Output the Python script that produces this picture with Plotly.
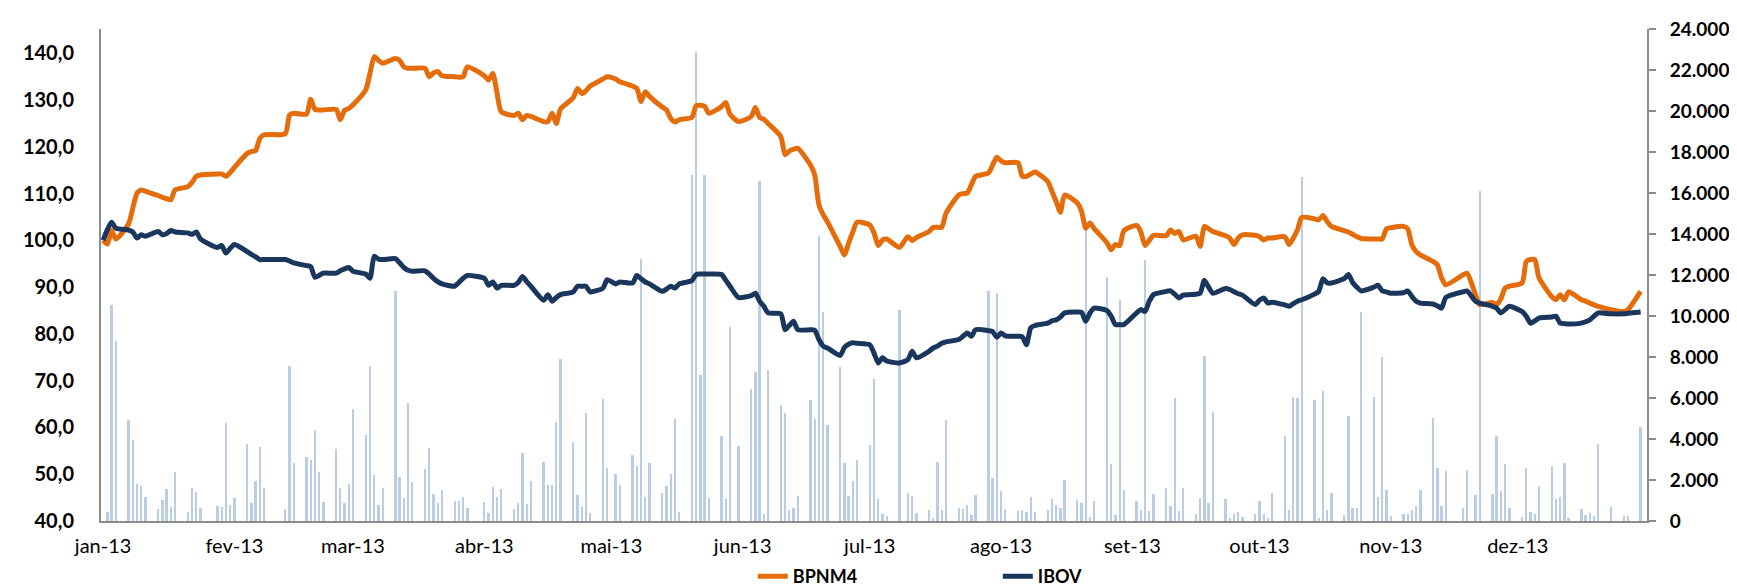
import pandas as pd
import plotly.graph_objects as go

# ---------------- data ----------------
holidays = ["2013-01-25", "2013-02-11", "2013-02-12", "2013-03-29", "2013-05-01",
            "2013-05-30", "2013-07-09", "2013-11-15", "2013-11-20", "2013-12-24",
            "2013-12-25"]
trading_days = [d.strftime("%Y-%m-%d") for d in pd.bdate_range("2013-01-02", "2013-12-30")
                if d.strftime("%Y-%m-%d") not in holidays]
base_date = "2013-01-01"
base_value = 100.0

month_ticks = ["2013-01-01", "2013-02-01", "2013-03-01", "2013-04-01", "2013-05-01", "2013-06-01",
               "2013-07-01", "2013-08-01", "2013-09-01", "2013-10-01", "2013-11-01", "2013-12-01"]
month_labels = ["jan-13", "fev-13", "mar-13", "abr-13", "mai-13", "jun-13",
                "jul-13", "ago-13", "set-13", "out-13", "nov-13", "dez-13"]

# daily traded volume (right axis)
volume = [
    # jan
    450, 10560, 8770, 4940, 3950, 1800, 1700, 1170, 600, 1040, 1540, 680, 2390, 440, 1600, 1400, 630,
    730, 700, 4790, 760,
    # fev
    1140, 3780, 900, 1960, 3620, 1600, 570, 7550, 2840, 3120, 2970, 4430, 2370, 940, 3520, 1600, 860, 1800,
    # mar
    5470, 4200, 7540, 2260, 780, 1600, 11240, 2130, 1140, 5750, 1900, 2550, 3560, 1320, 900, 1500,
    960, 990, 1170, 630,
    # abr
    930, 400, 1640, 1180, 1560, 580, 860, 3340, 830, 1930, 2900, 1780, 1770, 4820, 7890, 3860,
    1280, 700, 5260, 370, 5930, 2600,
    # mai
    2270, 1780, 3200, 2680, 12800, 1170, 2830, 1380, 1700, 2270, 5000, 450, 16900, 22900, 7100,
    16900, 1100, 4140, 1050, 9460, 3680,
    # jun
    6460, 7270, 16600, 320, 7360, 5650, 5280, 530, 630, 1220, 5900, 5000, 13900, 10200, 4660,
    7500, 2830, 1200, 1970, 3000,
    # jul
    3720, 6950, 1050, 320, 220, 10300, 1380, 1200, 400, 530, 160, 2900, 560, 4940, 650, 600, 780,
    290, 1280, 11200, 2100, 11100,
    # ago
    1460, 600, 490, 550, 440, 1170, 440, 520, 1050, 780, 650, 2000, 1020, 900, 14300, 200, 1000,
    11900, 2800, 300, 10800, 1500,
    # set
    1000, 550, 12750, 490, 1300, 1620, 730, 6000, 490, 1590, 320, 1100, 8040, 890, 5310, 1070,
    160, 320, 440, 210, 320,
    # out
    970, 320, 160, 1380, 4140, 520, 6060, 5980, 16800, 5910, 160, 6340, 520, 1350, 290, 5100,
    650, 650, 10200, 6040, 1180, 8000, 1510,
    # nov
    230, 340, 340, 520, 750, 1490, 5020, 2580, 750, 2420, 620, 2510, 1280, 16100, 1300, 4140,
    1460, 2790, 650,
    # dez
    210, 2580, 440, 360, 1730, 2660, 1070, 1180, 2830, 130, 600, 300, 370, 240, 3770, 680, 240,
    240, 4610,
]

# BPNM4 (base 100)
bpnm4 = [
    # jan
    99.2, 102.1, 100.3, 103.5, 106.9, 110.1, 110.8, 110.5, 109.6, 109.2, 108.9, 108.7, 110.8,
    111.5, 112.4, 113.7, 114.0, 114.2, 114.2, 113.7, 114.5,
    # fev
    115.6, 118.6, 119.0, 119.2, 121.8, 122.6, 122.8, 126.8, 127.2, 127.0, 130.2, 128.0, 127.9,
    127.9, 128.0, 125.8, 127.8, 128.2,
    # mar
    129.0, 132.2, 135.7, 139.3, 138.5, 137.9, 138.9, 138.5, 137.1, 136.8, 136.8, 136.8, 135.0,
    135.8, 136.1, 135.2, 135.0, 134.9, 135.0, 137.1,
    # abr
    135.2, 134.3, 135.7, 131.5, 127.5, 126.7, 127.2, 125.8, 126.7, 126.5, 125.4, 125.4, 127.2,
    125.0, 128.1, 130.5, 132.5, 131.4, 132.0, 133.0, 134.5, 135.0,
    # mai
    134.5, 133.9, 133.0, 132.5, 129.7, 131.8, 130.8, 128.5, 127.9, 126.1, 125.3, 125.8, 126.3,
    128.8, 128.9, 128.7, 127.2, 128.6, 129.5, 127.0, 125.4,
    # jun
    126.5, 128.4, 126.3, 125.9, 125.0, 122.2, 118.3, 119.1, 119.5, 119.7, 116.1, 114.0, 107.6,
    105.5, 104.0, 98.7, 96.9, 99.4, 101.8, 103.9,
    # jul
    103.3, 101.6, 98.9, 100.1, 100.3, 98.5, 100.8, 100.0, 100.6, 101.9, 102.8, 102.8, 102.8,
    105.8, 109.7, 110.0, 110.1, 111.9, 113.7, 114.4, 116.1, 117.8,
    # ago
    117.0, 116.6, 116.6, 113.7, 113.7, 114.2, 114.6, 112.6, 110.5, 108.3, 106.0, 109.7, 108.0,
    106.2, 102.6, 103.7, 102.5, 99.5, 98.0, 99.1, 98.9, 102.1,
    # set
    103.2, 101.8, 98.9, 100.0, 101.1, 101.0, 102.2, 101.5, 101.9, 100.1, 100.9, 98.7, 103.0,
    102.5, 101.9, 101.0, 100.5, 99.1, 100.5, 101.2, 101.1,
    # out
    100.8, 100.1, 100.5, 100.5, 100.8, 99.1, 100.5, 102.3, 104.9, 104.6, 104.4, 105.3, 104.0,
    103.0, 102.1, 101.8, 101.3, 100.8, 100.4, 100.3, 100.3, 100.3, 102.5,
    # nov
    102.7, 103.0, 102.5, 99.0, 97.6, 96.9, 95.5, 94.8, 92.0, 90.5, 92.6, 93.0, 88.4, 86.3, 86.7,
    86.3, 87.5, 89.8, 90.2,
    # dez
    90.9, 95.5, 95.9, 95.9, 92.0, 88.0, 87.3, 88.4, 87.3, 89.0, 87.3, 87.0, 86.6, 86.2, 85.9,
    85.2, 84.8, 85.2, 89.1,
]

# IBOV (base 100)
ibov = [
    # jan
    102.3, 103.9, 102.6, 102.2, 101.8, 100.5, 101.2, 100.9, 101.9, 101.2, 101.5, 102.1, 101.8,
    101.6, 101.3, 101.8, 100.3, 98.5, 98.9, 97.3, 98.3,
    # fev
    99.1, 97.6, 97.0, 96.5, 95.9, 95.9, 95.9, 95.6, 95.2, 94.6, 94.4, 92.1, 92.5, 93.0, 93.0,
    93.5, 93.9, 94.2,
    # mar
    93.4, 92.8, 91.9, 96.6, 96.0, 95.9, 96.1, 95.2, 94.2, 93.6, 93.4, 93.5, 92.8, 91.9, 91.2,
    90.7, 90.2, 91.0, 91.9, 92.5,
    # abr
    91.9, 90.4, 91.1, 89.8, 90.4, 90.4, 91.0, 92.3, 91.2, 90.2, 87.2, 88.4, 87.0, 87.8, 88.4,
    89.0, 90.2, 90.2, 90.2, 89.0, 89.8, 91.6,
    # mai
    90.7, 91.1, 90.9, 92.5, 91.8, 91.1, 90.7, 89.1, 89.6, 90.2, 89.8, 90.7, 91.4, 92.7, 92.8,
    92.8, 92.8, 92.7, 91.5, 90.2, 87.8,
    # jun
    88.2, 88.7, 87.0, 85.9, 84.5, 84.3, 80.9, 81.8, 82.7, 80.9, 80.9, 80.8, 78.8, 77.4, 77.0,
    75.4, 77.1, 77.8, 78.1, 78.0,
    # jul
    77.7, 75.9, 73.8, 74.9, 74.2, 73.8, 74.5, 76.3, 74.9, 76.3, 77.0, 77.4, 78.0, 78.3, 78.8,
    79.5, 80.2, 79.5, 80.9, 80.7, 80.5, 79.3,
    # ago
    80.2, 79.6, 79.5, 79.4, 77.7, 81.3, 81.8, 82.3, 82.8, 83.0, 83.6, 84.5, 84.7, 84.6, 82.7,
    84.5, 85.5, 85.0, 83.8, 82.0, 82.0, 82.0,
    # set
    84.5, 85.2, 84.8, 87.0, 88.4, 89.1, 89.2, 88.5, 87.7, 88.3, 88.5, 88.7, 91.5, 90.0, 88.7,
    89.7, 89.5, 89.0, 88.6, 88.3, 86.3,
    # out
    87.2, 87.7, 86.6, 86.8, 86.2, 85.9, 86.5, 87.0, 87.3, 88.5, 89.1, 91.8, 90.9, 90.9, 91.8,
    92.7, 91.0, 90.0, 89.2, 90.0, 90.4, 89.2, 89.0,
    # nov
    88.7, 88.8, 89.2, 88.0, 87.0, 86.6, 86.4, 86.0, 85.5, 87.8, 89.0, 89.2, 87.0, 86.6, 85.9,
    85.5, 84.5, 85.2, 85.9,
    # dez
    84.8, 83.8, 82.3, 82.8, 83.4, 83.6, 83.8, 82.3, 82.2, 82.1, 82.3, 82.6, 83.0, 83.8, 84.5,
    84.3, 84.3, 84.4, 84.7,
]

assert len(trading_days) == len(volume) == len(bpnm4) == len(ibov), (
    len(trading_days), len(volume), len(bpnm4), len(ibov))

line_dates = [base_date] + trading_days

# ---------------- figure ----------------
ORANGE = "#E46C0A"
NAVY = "#1B365D"
BAR = "#B9CDE5"
AXIS = "#8C8C8C"
CLEAR = "rgba(0,0,0,0)"
FONT = "Lato"

fig = go.Figure()
fig.add_trace(go.Bar(x=trading_days, y=volume, yaxis="y", marker_color=BAR,
                     marker_line_width=0, width=0.55 * 86400000, showlegend=False,
                     name="Volume"))
fig.add_trace(go.Scatter(x=line_dates, y=[base_value] + bpnm4, yaxis="y2", mode="lines",
                         name="BPNM4", line=dict(color=ORANGE, width=5, shape="spline",
                                                 smoothing=0.6)))
fig.add_trace(go.Scatter(x=line_dates, y=[base_value] + ibov, yaxis="y2", mode="lines",
                         name="IBOV", line=dict(color=NAVY, width=5, shape="spline",
                                                smoothing=0.6)))

fig.update_layout(
    width=1737, height=587,
    margin=dict(l=93, r=98, t=21, b=74, autoexpand=False),
    paper_bgcolor="white", plot_bgcolor="white",
    separators=",.",
    bargap=0,
    font=dict(family=FONT, color="black"),
    xaxis=dict(type="date", range=["2012-12-31 12:00", "2013-12-31 12:00"],
               tickvals=month_ticks, ticktext=month_labels,
               ticks="outside", ticklen=6, tickcolor=CLEAR,
               showgrid=False, zeroline=False, showline=True, linecolor=AXIS, linewidth=2,
               tickfont=dict(family=FONT, size=20, color="black")),
    yaxis=dict(side="right", range=[0, 24000], tick0=0, dtick=2000, tickformat=",d",
               showgrid=False, zeroline=False, showline=True, linecolor=AXIS, linewidth=2,
               ticks="outside", ticklen=7, tickwidth=2, tickcolor=AXIS,
               ticklabelstandoff=10,
               tickfont=dict(family=FONT, size=19, color="black", weight="bold")),
    yaxis2=dict(side="left", overlaying="y", range=[40, 145.2], tick0=40, dtick=10,
                tickformat=".1f", showgrid=False, zeroline=False, showline=True,
                linecolor=AXIS, linewidth=2, ticks="outside", ticklen=21, tickcolor=CLEAR,
                tickfont=dict(family=FONT, size=20, color="black", weight="bold")),
    legend=dict(orientation="h", x=0.4216, xanchor="left", y=-0.113, yanchor="middle",
                entrywidth=200, bgcolor="rgba(0,0,0,0)",
                font=dict(family=FONT, size=18, color="black", weight="bold")),
)

fig.write_html("out.html")
